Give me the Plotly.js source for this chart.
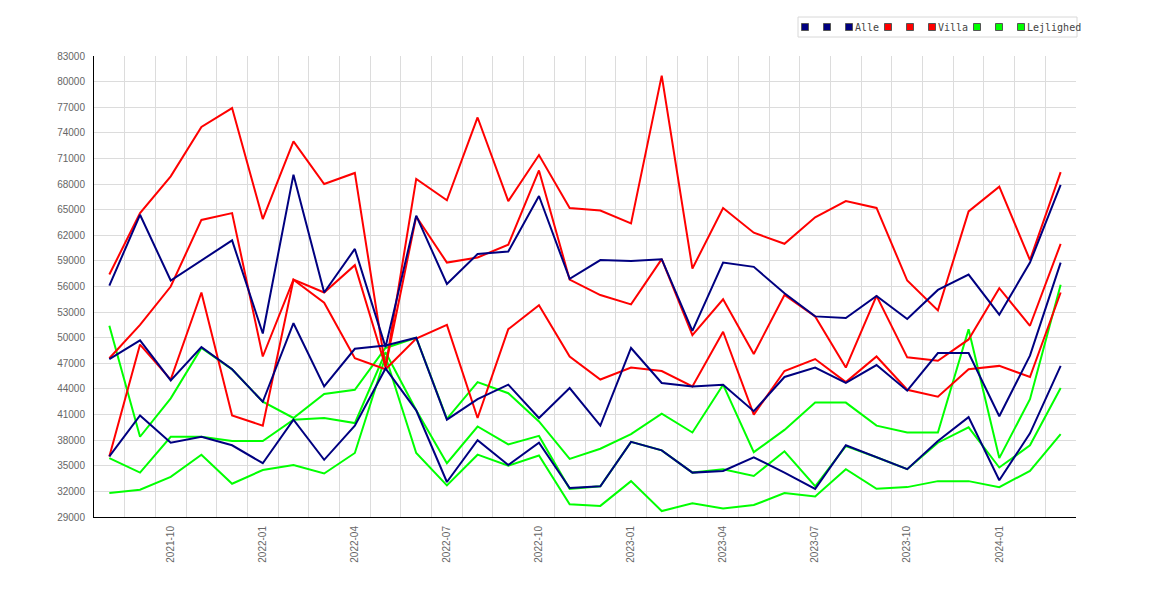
<!DOCTYPE html>
<html>
<head>
<meta charset="utf-8">
<script src="https://cdn.plot.ly/plotly-3.0.1.min.js"></script>
<style>
  html, body { margin: 0; padding: 0; background: #fff; }
  #chart { width: 1170px; height: 600px; }
</style>
</head>
<body>
<div id="chart"></div>
<script>
// months on the x axis (one point per month)
const months = [
  '2021-08', '2021-09', '2021-10', '2021-11', '2021-12', '2022-01', '2022-02', '2022-03',
  '2022-04', '2022-05', '2022-06', '2022-07', '2022-08', '2022-09', '2022-10', '2022-11',
  '2022-12', '2023-01', '2023-02', '2023-03', '2023-04', '2023-05', '2023-06', '2023-07',
  '2023-08', '2023-09', '2023-10', '2023-11', '2023-12', '2024-01', '2024-02', '2024-03'
];

// Alle
const alleTop = [56100, 64400, 56700, 59000, 61400, 50500, 69100, 55300, 60400, 48900, 64300, 56300, 59800, 60100, 66600, 56900,
                 59100, 59000, 59200, 50800, 58800, 58300, 55200, 52500, 52300, 54900, 52200, 55600, 57400, 52700, 58800, 67900];
const alleMid = [47500, 49700, 45000, 48900, 46300, 42500, 51700, 44300, 48700, 49100, 50000, 40400, 42800, 44500, 40600, 44100,
                 39700, 48800, 44700, 44300, 44500, 41400, 45400, 46500, 44700, 46800, 43800, 48200, 48200, 40800, 47900, 58800];
const alleLow = [36100, 40900, 37700, 38400, 37400, 35300, 40400, 35700, 39700, 46400, 41500, 33100, 38000, 35100, 37700, 32400,
                 32600, 37800, 36800, 34200, 34400, 36000, 34200, 32300, 37400, 36000, 34600, 37900, 40700, 33300, 38800, 46700];

// Villa
const villaTop = [57400, 64600, 68900, 74700, 76900, 63900, 73000, 68000, 69300, 46500, 68600, 66100, 75800, 66000, 71400, 65200,
                  64900, 63400, 80700, 58100, 65200, 62300, 61000, 64100, 66000, 65200, 56700, 53200, 64800, 67700, 59100, 69400];
const villaMid = [47600, 51500, 56000, 63800, 64600, 47800, 56800, 55300, 58500, 46600, 64200, 58800, 59400, 60900, 69600, 56800,
                  55000, 53900, 59200, 50300, 54500, 48100, 55000, 52500, 46500, 54900, 47700, 47300, 49800, 55800, 51400, 61000];
const villaLow = [36100, 49200, 45100, 55300, 40900, 39700, 56800, 54100, 47600, 46300, 49900, 51500, 40600, 51000, 53800, 47800,
                  45100, 46500, 46100, 44300, 50700, 41000, 46100, 47500, 44800, 47800, 43900, 43100, 46300, 46700, 45400, 55300];

// Lejlighed
const lejlighedTop = [51400, 38400, 42900, 48800, 46300, 42500, 40600, 43400, 43900, 48800, 50000, 40500, 44800, 43500, 40200, 35800,
                      37000, 38700, 41100, 38900, 44500, 36600, 39200, 42400, 42400, 39700, 38900, 38900, 51000, 35900, 42800, 56200];
const lejlighedMid = [35900, 34200, 38400, 38400, 37900, 37900, 40400, 40600, 40000, 48300, 41500, 35300, 39600, 37500, 38500, 32300,
                      32600, 37800, 36800, 34200, 34600, 33800, 36700, 32600, 37300, 36000, 34600, 37700, 39500, 34800, 37400, 44100];
const lejlighedLow = [31800, 32200, 33700, 36300, 32900, 34500, 35100, 34100, 36500, 47800, 36500, 32700, 36300, 35000, 36200, 30500,
                      30300, 33200, 29700, 30600, 30000, 30400, 31800, 31400, 34600, 32300, 32500, 33200, 33200, 32500, 34400, 38700];

const groups = [
  { name: 'Alle', color: '#000080', series: [alleTop, alleMid, alleLow] },
  { name: 'Villa', color: '#ff0000', series: [villaTop, villaMid, villaLow] },
  { name: 'Lejlighed', color: '#00ff00', series: [lejlighedTop, lejlighedMid, lejlighedLow] }
];

const W = 1170, H = 600;
const M = { l: 94, r: 94, t: 56, b: 83 };
const px = x => (x - M.l) / (W - M.l - M.r);
const py = y => (H - M.b - y) / (H - M.t - M.b);

const MONO = 'DejaVu Sans Mono, monospace';
const SANS = 'Liberation Sans, Arial, sans-serif';

// green underneath, then red, navy on top
const drawOrder = [2, 1, 0];
const traces = [];
drawOrder.forEach(gi => {
  const g = groups[gi];
  g.series.forEach(vals => {
    traces.push({
      x: months,
      y: vals,
      type: 'scatter',
      mode: 'lines',
      line: { color: g.color, width: 2 },
      showlegend: false,
      hoverinfo: 'skip'
    });
  });
});

// hand-made legend: three squares per group, name after the last one
const shapes = [{
  type: 'rect', xref: 'paper', yref: 'paper',
  x0: px(798), x1: px(1077), y0: py(37), y1: py(17),
  line: { color: '#d8d8d8', width: 1 }, fillcolor: '#fff'
}];
const annotations = [];
const groupStart = [805, 888, 977];
groups.forEach((g, gi) => {
  let cx = groupStart[gi];
  for (let k = 0; k < 3; k++) {
    cx = groupStart[gi] + k * 22;
    shapes.push({
      type: 'rect', xref: 'paper', yref: 'paper',
      x0: px(cx - 3.5), x1: px(cx + 3.5), y0: py(30.5), y1: py(23.5),
      line: { color: '#555', width: 1 }, fillcolor: g.color
    });
  }
  annotations.push({
    xref: 'paper', yref: 'paper', x: px(cx + 4), y: py(27.5),
    xanchor: 'left', yanchor: 'middle', showarrow: false,
    text: g.name, font: { family: MONO, size: 10, color: '#444' }
  });
});

const quarterMonths = ['01', '04', '07', '10'];
const tickText = months.map(m => quarterMonths.includes(m.slice(5)) ? m : '');

const layout = {
  width: W, height: H,
  margin: M,
  paper_bgcolor: '#fff',
  plot_bgcolor: '#fff',
  showlegend: false,
  hovermode: false,
  font: { family: SANS, size: 10, color: '#666' },
  xaxis: {
    type: 'category',
    range: [-0.5, months.length - 0.5],
    tickmode: 'array',
    tickvals: months,
    ticktext: tickText,
    tickson: 'boundaries',
    tickangle: -90,
    ticks: '',
    ticklabelstandoff: 4,
    showgrid: true,
    gridcolor: '#dcdcdc',
    gridwidth: 1,
    showline: true,
    linecolor: '#000',
    linewidth: 1,
    zeroline: false,
    automargin: false,
    tickfont: { family: SANS, size: 10, color: '#666' }
  },
  yaxis: {
    range: [29000, 83000],
    tickmode: 'linear',
    tick0: 29000,
    dtick: 3000,
    tickformat: 'd',
    ticks: '',
    ticklabelstandoff: 6,
    showgrid: true,
    gridcolor: '#dcdcdc',
    gridwidth: 1,
    showline: true,
    linecolor: '#000',
    linewidth: 1,
    zeroline: false,
    automargin: false,
    tickfont: { family: SANS, size: 10, color: '#666' }
  },
  shapes: shapes,
  annotations: annotations
};

Plotly.newPlot('chart', traces, layout, { displayModeBar: false, staticPlot: true });
</script>
</body>
</html>
